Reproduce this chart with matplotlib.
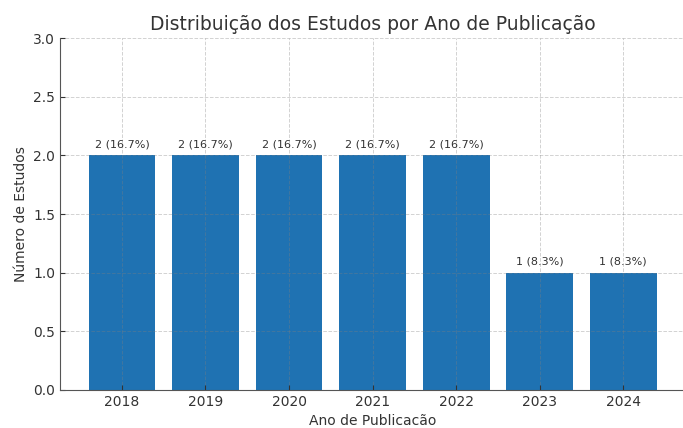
import matplotlib.pyplot as plt

anos = ["2018", "2019", "2020", "2021", "2022", "2023", "2024"]
estudos = [2, 2, 2, 2, 2, 1, 1]
rotulos = ["2 (16.7%)", "2 (16.7%)", "2 (16.7%)", "2 (16.7%)", "2 (16.7%)", "1 (8.3%)", "1 (8.3%)"]

txt = "#333333"
plt.rcParams["text.color"] = txt
plt.rcParams["axes.labelcolor"] = txt
plt.rcParams["xtick.color"] = txt
plt.rcParams["ytick.color"] = txt

fig = plt.figure(figsize=(6.83, 4.28), dpi=100)
ax = fig.add_axes([0.088, 0.089, 0.915, 0.822])
bars = ax.bar(anos, estudos, color="#1f72b2", width=0.8)
for b, r in zip(bars, rotulos):
    ax.text(b.get_x() + b.get_width() / 2, b.get_height() + 0.05, r,
            ha="center", va="bottom", fontsize=8)

ax.set_ylim(0, 3.0)
ax.set_title("Distribuição dos Estudos por Ano de Publicação", fontsize=13.5)
ax.set_xlabel("Ano de Publicacão", fontsize=10)
ax.set_ylabel("Número de Estudos", fontsize=10)
ax.grid(True, linestyle="--", color="gray", alpha=0.35, linewidth=0.7)
ax.tick_params(direction="in", labelsize=10)
ax.spines["top"].set_visible(False)
ax.spines["right"].set_visible(False)
ax.spines["left"].set_color("#555555")
ax.spines["bottom"].set_color("#555555")

fig.savefig("out.png", dpi=100)
